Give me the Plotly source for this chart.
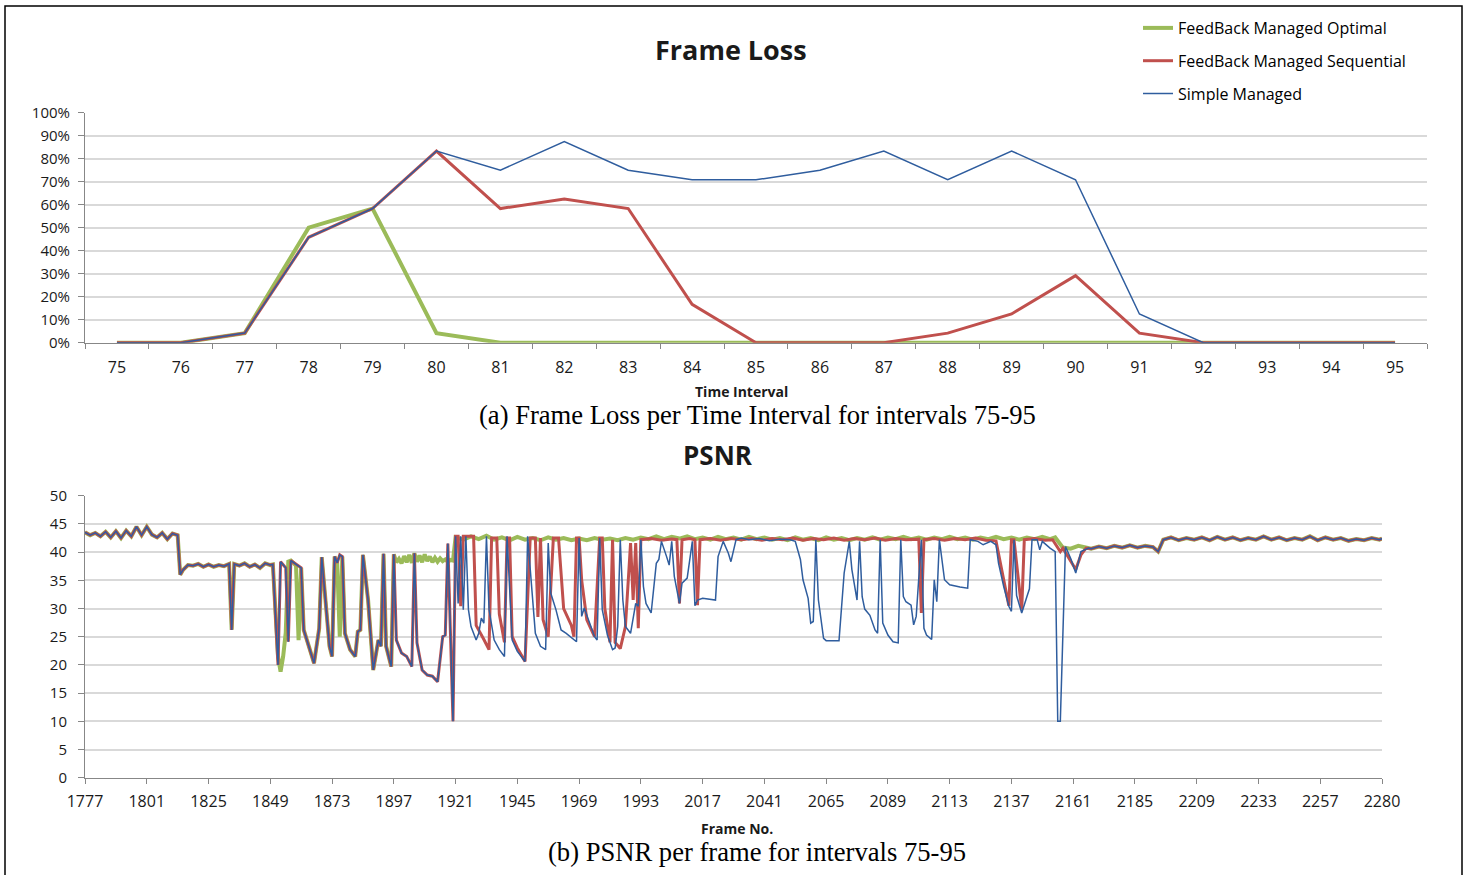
import plotly.graph_objects as go

W, H = 1469, 875

# ---------------- Frame Loss (top chart) ----------------
intervals = ["75", "76", "77", "78", "79", "80", "81", "82", "83", "84", "85",
             "86", "87", "88", "89", "90", "91", "92", "93", "94", "95"]
loss_optimal = [0, 0, 4.17, 50.0, 58.33, 4.17, 0, 0, 0, 0, 0,
                0, 0, 0, 0, 0, 0, 0, 0, 0, 0]
loss_sequential = [0, 0, 4.17, 45.83, 58.33, 83.33, 58.33, 62.5, 58.33, 16.67, 0,
                   0, 0, 4.17, 12.5, 29.17, 4.17, 0, 0, 0, 0]
loss_simple = [0, 0, 4.17, 45.83, 58.33, 83.33, 75.0, 87.5, 75.0, 70.83, 70.83,
               75.0, 83.33, 70.83, 83.33, 70.83, 12.5, 0, 0, 0, 0]

# ---------------- PSNR (bottom chart) ----------------
# positions are frame positions on the category axis (0 = frame 1777)
frame_tick_pos = [0, 24, 48, 72, 96, 120, 144, 168, 192, 216, 240, 264, 288,
                  312, 336, 360, 384, 408, 432, 456, 480, 504]
frame_tick_labels = ["1777", "1801", "1825", "1849", "1873", "1897", "1921", "1945",
                     "1969", "1993", "2017", "2041", "2065", "2089", "2113", "2137",
                     "2161", "2185", "2209", "2233", "2257", "2280"]

psnr_start_all = [
    (0, 43.5), (2, 43.0), (4, 43.4), (6, 42.8), (8, 43.6), (10, 42.6), (12, 43.7),
    (14, 42.5), (16, 43.8), (18, 42.8), (20, 44.5), (22, 43.0), (24, 44.5), (26, 43.1),
    (28, 42.6), (30, 43.4), (32, 42.3), (34, 43.3), (36, 43.0), (37, 36.0), (38, 36.8),
    (40, 37.7), (42, 37.6), (44, 37.9), (46, 37.4), (48, 37.8), (50, 37.4), (52, 37.7),
    (54, 37.5), (56, 37.9), (57, 26.2), (58, 37.9), (60, 37.6), (62, 38.0), (64, 37.4),
    (66, 37.8), (68, 37.2), (70, 38.0), (72, 37.7), (73, 37.8)]

psnr_mid_seq_simple = [
    (75, 20.0), (76, 38.3), (78, 37.2), (79, 24.1), (80, 38.5), (84, 37.2), (85, 26.2),
    (87, 23.3), (89, 20.3), (91, 26.5), (92, 39.1), (95, 23.3), (96, 21.5), (97, 39.2),
    (98, 38.1), (99, 39.5), (100, 39.2), (101, 25.6), (103, 22.7), (105, 21.5), (106, 25.9),
    (107, 26.2), (108, 39.5), (110, 31.5), (111, 24.4), (112, 19.1), (114, 24.4), (115, 23.3),
    (116, 39.7), (117, 23.3), (119, 19.7), (120, 39.6), (121, 24.4), (123, 22.1), (125, 21.5),
    (127, 19.7), (128, 39.8), (129, 23.9), (131, 19.1), (133, 18.2), (135, 18.0), (137, 17.0),
    (139, 25.0), (140, 25.3), (141, 41.5), (142, 27.0)]

psnr_mid_optimal = [
    (75, 21.5), (76, 18.8), (77, 21.5), (78, 25.7), (79, 38.3), (80, 38.5), (82, 37.6),
    (83, 24.4), (84, 37.2), (85, 26.2), (87, 23.3), (89, 20.3), (91, 26.5), (92, 39.1),
    (95, 23.3), (96, 21.5), (97, 39.2), (98, 38.1), (99, 25.0), (100, 39.2), (101, 25.6),
    (103, 22.7), (105, 21.5), (106, 25.9), (107, 26.2), (108, 39.5), (110, 31.5), (111, 24.4),
    (112, 19.1), (114, 24.4), (115, 23.3), (116, 39.7), (117, 23.3), (119, 19.7), (120, 39.6),
    (121, 38.2), (122, 38.8), (123, 38.0), (124, 39.3), (125, 38.2), (126, 39.5), (127, 38.1),
    (128, 39.8), (129, 38.3), (130, 39.4), (131, 38.2), (132, 39.6), (133, 38.4), (134, 39.2),
    (135, 38.2), (136, 39.0), (137, 38.3), (138, 38.9), (139, 38.4), (140, 38.7), (141, 38.3),
    (142, 38.6), (143, 38.5)]

psnr_optimal_flat = [
    (144, 42.6), (147, 42.2), (150, 42.8), (153, 42.3), (156, 42.9), (159, 42.2), (162, 42.6),
    (165, 42.1), (168, 42.7), (171, 42.2), (174, 42.5), (177, 42.1), (180, 42.6), (183, 42.2),
    (186, 42.5), (189, 42.1), (192, 42.4), (195, 42.1), (198, 42.5), (201, 42.2), (204, 42.4),
    (207, 42.1), (210, 42.5), (213, 42.2), (216, 42.6), (219, 42.3), (222, 42.8), (225, 42.3),
    (228, 42.7), (231, 42.4), (234, 42.8), (237, 42.3), (240, 42.6), (243, 42.2), (246, 42.7),
    (249, 42.3), (252, 42.6), (255, 42.2), (258, 42.7), (261, 42.3), (264, 42.6), (267, 42.2),
    (270, 42.5), (273, 42.1), (276, 42.6), (279, 42.2), (282, 42.5), (285, 42.1), (288, 42.6),
    (291, 42.2), (294, 42.5), (297, 42.1), (300, 42.5), (303, 42.2), (306, 42.6), (309, 42.2),
    (312, 42.6), (315, 42.3), (318, 42.7), (321, 42.3), (324, 42.6), (327, 42.2), (330, 42.6),
    (333, 42.3), (336, 42.7), (339, 42.3), (342, 42.6), (345, 42.2), (348, 42.6), (351, 42.3),
    (354, 42.7), (357, 42.3), (360, 42.6), (363, 42.2), (366, 42.6), (369, 42.3), (372, 42.7),
    (375, 42.3), (377, 42.6), (380, 40.8), (383, 40.6), (386, 41.1), (389, 40.7)]

psnr_sequential_rest = [
    (143, 10.0), (144, 42.8), (145, 42.8), (146, 30.4), (147, 42.8), (151, 42.8), (152, 27.0),
    (155, 24.5), (157, 22.7), (158, 42.5), (160, 42.5), (161, 29.0), (163, 24.0), (164, 42.5),
    (165, 42.5), (166, 25.0), (168, 23.0), (171, 20.6), (173, 42.5), (175, 42.5), (176, 28.5),
    (177, 42.5), (178, 28.0), (180, 25.0), (182, 42.5), (184, 42.5), (186, 30.0), (189, 27.0),
    (190, 25.0), (191, 42.5), (192, 42.5), (193, 35.0), (195, 28.0), (197, 26.0), (198, 25.0),
    (200, 42.5), (201, 42.5), (202, 30.0), (204, 24.0), (205, 42.2), (206, 24.0), (208, 22.9),
    (210, 26.8), (212, 41.6), (213, 31.5), (214, 41.6), (215, 26.5), (216, 42.2), (220, 42.4),
    (224, 42.1), (228, 42.3), (230, 42.2), (231, 30.9), (232, 42.2), (235, 42.4), (237, 42.2),
    (238, 30.6), (239, 42.2), (243, 42.4), (247, 42.1), (251, 42.4), (255, 42.2), (259, 42.4),
    (263, 42.1), (267, 42.4), (271, 42.2), (275, 42.5), (279, 42.1), (283, 42.4), (287, 42.2),
    (291, 42.5), (295, 42.1), (299, 42.4), (303, 42.2), (307, 42.5), (311, 42.1), (315, 42.4),
    (319, 42.2), (324, 42.3), (325, 29.2), (326, 42.2), (330, 42.4), (334, 42.1), (338, 42.4),
    (342, 42.2), (346, 42.5), (350, 42.1), (354, 42.0), (359, 30.5), (360, 42.2), (361, 42.2),
    (364, 29.8), (365, 42.2), (369, 42.4), (373, 42.1), (376, 42.2), (379, 40.1), (380, 40.7),
    (383, 38.3), (385, 36.9), (387, 39.5), (389, 40.7)]

psnr_simple_rest = [
    (143, 10.0), (144, 42.8), (145, 30.9), (146, 42.8), (147, 29.8), (148, 42.8), (149, 29.8),
    (150, 26.8), (152, 24.4), (153, 25.6), (154, 28.3), (155, 27.4), (156, 42.8), (157, 29.8),
    (159, 24.4), (161, 22.7), (163, 21.5), (164, 42.8), (166, 24.4), (168, 22.4), (171, 20.6),
    (172, 42.8), (174, 31.5), (175, 25.6), (177, 23.3), (179, 22.7), (180, 41.6), (181, 32.7),
    (183, 29.8), (185, 26.2), (187, 25.6), (190, 24.4), (191, 24.1), (192, 42.5), (193, 28.6),
    (194, 30.1), (196, 27.7), (198, 25.0), (199, 24.4), (200, 42.5), (201, 29.8), (203, 25.3),
    (205, 22.7), (206, 23.0), (207, 26.8), (208, 42.2), (209, 31.5), (210, 26.8), (212, 25.6),
    (213, 28.6), (214, 30.9), (215, 30.4), (216, 42.2), (217, 33.9), (218, 30.9), (220, 29.2),
    (222, 38.0), (223, 38.7), (224, 41.9), (226, 39.2), (227, 37.7), (228, 41.9), (229, 35.7),
    (231, 30.9), (232, 34.5), (234, 35.4), (236, 41.9), (237, 30.5), (238, 31.5), (240, 31.8),
    (243, 31.6), (245, 31.5), (246, 39.2), (248, 41.9), (250, 39.8), (251, 38.3), (253, 42.2),
    (255, 42.5), (258, 42.2), (262, 42.4), (266, 42.0), (270, 42.3), (274, 42.2), (276, 41.9),
    (278, 38.7), (279, 35.1), (281, 31.8), (282, 27.4), (283, 27.7), (284, 42.2), (285, 31.5),
    (287, 24.7), (288, 24.3), (293, 24.3), (295, 36.3), (297, 41.9), (298, 36.9), (300, 31.5),
    (301, 41.9), (302, 32.1), (303, 29.9), (305, 28.8), (307, 26.2), (308, 25.6), (309, 42.2),
    (310, 27.4), (312, 25.3), (314, 24.1), (316, 23.9), (317, 42.2), (318, 32.1), (319, 31.2),
    (321, 30.6), (322, 27.1), (323, 28.6), (325, 42.2), (326, 26.5), (327, 25.3), (329, 24.5),
    (330, 35.1), (331, 31.2), (332, 42.2), (334, 35.1), (336, 34.2), (340, 33.8), (343, 33.6),
    (344, 42.2), (347, 41.9), (349, 41.3), (352, 41.9), (354, 41.3), (355, 38.0), (357, 33.9),
    (359, 30.4), (360, 29.5), (361, 42.2), (362, 32.3), (364, 29.2), (366, 32.1), (367, 33.5),
    (368, 42.2), (370, 42.2), (371, 40.4), (372, 41.9), (375, 40.7), (377, 40.1), (378, 10.0),
    (379, 10.0), (381, 41.0), (383, 38.9), (385, 36.3), (387, 40.1), (390, 40.7)]

psnr_tail_41 = [
    (391, 40.6), (394, 41.0), (397, 40.7), (400, 41.1), (403, 40.8), (406, 41.2), (409, 40.8),
    (412, 41.1), (415, 40.9), (417, 40.1)]

psnr_tail_42 = [
    (419, 42.2), (422, 42.6), (425, 42.1), (428, 42.5), (431, 42.2), (434, 42.6), (437, 42.1),
    (440, 42.7), (443, 42.2), (446, 42.6), (449, 42.1), (452, 42.5), (455, 42.2), (458, 42.8),
    (461, 42.2), (464, 42.6), (467, 42.1), (470, 42.5), (473, 42.2), (476, 42.8), (479, 42.1),
    (482, 42.6), (485, 42.2), (488, 42.5), (491, 42.0), (494, 42.3), (497, 42.1), (500, 42.5),
    (503, 42.2), (504, 42.4)]

series_names = ["FeedBack Managed Optimal", "FeedBack Managed Sequential", "Simple Managed"]
series_colors = ["#9BBB59", "#C0504D", "#2F5D9E"]
series_widths = [4, 3, 1.5]

psnr_optimal = psnr_start_all + psnr_mid_optimal + psnr_optimal_flat + psnr_tail_41 + psnr_tail_42
psnr_sequential = psnr_start_all + psnr_mid_seq_simple + psnr_sequential_rest + psnr_tail_41 + psnr_tail_42
psnr_simple = psnr_start_all + psnr_mid_seq_simple + psnr_simple_rest + psnr_tail_41 + psnr_tail_42

loss_series = [loss_optimal, loss_sequential, loss_simple]
psnr_series = [psnr_optimal, psnr_sequential, psnr_simple]

fig = go.Figure()
for k in range(3):
    fig.add_trace(go.Scatter(
        x=intervals, y=loss_series[k], mode="lines", name=series_names[k],
        legendgroup=f"g{k}", line=dict(color=series_colors[k], width=series_widths[k]),
        xaxis="x", yaxis="y"))
for k in range(3):
    pts = psnr_series[k]
    fig.add_trace(go.Scatter(
        x=[p[0] for p in pts], y=[p[1] for p in pts], mode="lines", name=series_names[k],
        showlegend=False, line=dict(color=series_colors[k], width=series_widths[k]),
        xaxis="x2", yaxis="y2"))

AX = "#878787"
GRID = "#D9D9D9"
TXT = "#1a1a1a"
FONT = "'Open Sans', sans-serif"
SERIF = "'Liberation Serif', 'Times New Roman', serif"


def px(x):
    return x / W


def py(y):
    return 1 - y / H


fig.update_layout(
    width=W, height=H, margin=dict(l=0, r=0, t=0, b=0, pad=0, autoexpand=False),
    paper_bgcolor="white", plot_bgcolor="white",
    font=dict(family=FONT, color=TXT),
    showlegend=True,
    legend=dict(x=px(1138), y=py(11), xanchor="left", yanchor="top",
                font=dict(size=16, color="black"), tracegroupgap=9,
                bgcolor="rgba(0,0,0,0)", traceorder="grouped"),
    xaxis=dict(domain=[px(85), px(1427)], type="category", tickson="boundaries",
               range=[-0.5, 20.5], ticks="outside", ticklen=5, tickcolor=AX,
               showline=True, linecolor=AX, linewidth=1, showgrid=False,
               tickfont=dict(size=16, color=TXT), ticklabelstandoff=10, anchor="y"),
    yaxis=dict(domain=[py(342.7), py(112.7)], range=[0, 100], dtick=10, ticksuffix="%",
               ticks="outside", ticklen=6, tickcolor=AX, showline=True, linecolor=AX,
               gridcolor=GRID, gridwidth=1.5, zeroline=False,
               tickfont=dict(size=15, color=TXT), ticklabelstandoff=5, anchor="x"),
    xaxis2=dict(domain=[px(85), px(1382)], range=[0, 504], tickmode="array",
                tickvals=frame_tick_pos, ticktext=frame_tick_labels,
                ticks="outside", ticklen=5, tickcolor=AX, showline=True, linecolor=AX,
                showgrid=False, zeroline=False,
                tickfont=dict(size=16, color=TXT), ticklabelstandoff=4, anchor="y2"),
    yaxis2=dict(domain=[py(777.7), py(495.7)], range=[0, 50], dtick=5,
                ticks="outside", ticklen=6, tickcolor=AX, showline=True, linecolor=AX,
                gridcolor=GRID, gridwidth=1.5, zeroline=False,
                tickfont=dict(size=15, color=TXT), ticklabelstandoff=8, anchor="x2"),
    shapes=[dict(type="rect", xref="paper", yref="paper", x0=px(5), x1=px(1462),
                 y0=-0.05, y1=py(6), line=dict(color="black", width=1.5))],
    annotations=[
        dict(text="<b>Frame Loss</b>", x=px(731), y=py(49), xref="paper", yref="paper",
             showarrow=False, font=dict(size=27, color=TXT), xanchor="center", yanchor="middle"),
        dict(text="<b>Time Interval</b>", x=px(741), y=py(391), xref="paper", yref="paper",
             showarrow=False, font=dict(size=14, color=TXT), xanchor="center", yanchor="middle"),
        dict(text="(a) Frame Loss per Time Interval for intervals 75-95", x=px(757), y=py(415),
             xref="paper", yref="paper", showarrow=False,
             font=dict(size=26.6, color="black", family=SERIF),
             xanchor="center", yanchor="middle"),
        dict(text="<b>PSNR</b>", x=px(718), y=py(455), xref="paper", yref="paper",
             showarrow=False, font=dict(size=26, color=TXT), xanchor="center", yanchor="middle"),
        dict(text="<b>Frame No.</b>", x=px(737), y=py(828), xref="paper", yref="paper",
             showarrow=False, font=dict(size=14, color=TXT), xanchor="center", yanchor="middle"),
        dict(text="(b) PSNR per frame for intervals 75-95", x=px(757), y=py(852),
             xref="paper", yref="paper", showarrow=False,
             font=dict(size=26.6, color="black", family=SERIF),
             xanchor="center", yanchor="middle"),
    ],
)

fig.write_html(
    "out.html",
    config={"displayModeBar": False},
    post_script="document.body.style.margin='0px';document.body.style.padding='0px';"
                "document.documentElement.style.overflow='hidden';"
                "document.body.style.overflow='hidden';",
)
